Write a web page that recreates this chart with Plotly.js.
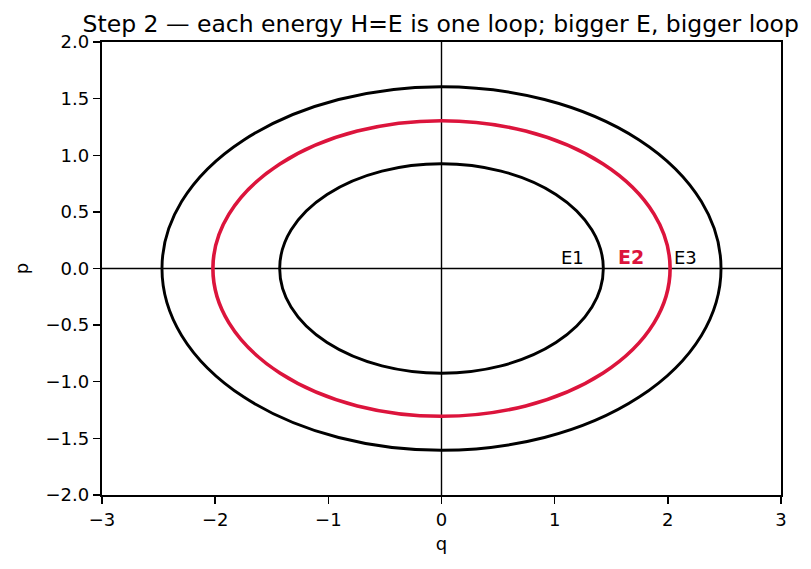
<!DOCTYPE html>
<html>
<head>
<meta charset="utf-8">
<script src="https://cdn.plot.ly/plotly-3.0.1.min.js"></script>
<style>html,body{margin:0;padding:0;background:#fff;}</style>
</head>
<body>
<div id="chart" style="width:811px;height:569px;"></div>
<script>
// Energy levels and the half-widths of each loop
const levelNames = ["E1", "E2", "E3"];
const qHalfWidth = [1.43, 2.02, 2.47];
const pHalfHeight = [0.925, 1.305, 1.605];
const levelColors = ["#000000", "#DC143C", "#000000"];
const levelWidths = [2.9, 3.6, 2.9];
const labelQ = [1.155, 1.675, 2.16];
const labelP = [0.10, 0.10, 0.10];
const xTicks = [-3, -2, -1, 0, 1, 2, 3];
const xTickText = ["\u22123", "\u22122", "\u22121", "0", "1", "2", "3"];
const yTicks = [-2, -1.5, -1, -0.5, 0, 0.5, 1, 1.5, 2];
const yTickText = ["\u22122.0", "\u22121.5", "\u22121.0", "\u22120.5", "0.0", "0.5", "1.0", "1.5", "2.0"];

const font = "DejaVu Sans, sans-serif";

const shapes = [];
shapes.push({type: "line", xref: "x", yref: "y", x0: -3, x1: 3, y0: 0, y1: 0, line: {color: "#000", width: 1.4}, layer: "below"});
shapes.push({type: "line", xref: "x", yref: "y", x0: 0, x1: 0, y0: -2, y1: 2, line: {color: "#000", width: 1.4}, layer: "below"});
for (let i = 0; i < levelNames.length; i++) {
  shapes.push({
    type: "circle", xref: "x", yref: "y",
    x0: -qHalfWidth[i], x1: qHalfWidth[i],
    y0: -pHalfHeight[i], y1: pHalfHeight[i],
    line: {color: levelColors[i], width: levelWidths[i]},
    fillcolor: "rgba(0,0,0,0)"
  });
}

const annotations = levelNames.map((n, i) => ({
  x: labelQ[i], y: labelP[i], xref: "x", yref: "y",
  text: i === 1 ? "<b>" + n + "</b>" : n,
  showarrow: false,
  font: {family: font, size: i === 1 ? 19 : 18, color: levelColors[i]},
  xanchor: "center", yanchor: "middle"
}));

const traces = [{x: [null], y: [null], type: "scatter", mode: "lines", showlegend: false, hoverinfo: "skip"}];

const layout = {
  width: 811, height: 569,
  margin: {l: 102, r: 30, t: 42, b: 74},
  paper_bgcolor: "#fff", plot_bgcolor: "#fff",
  showlegend: false,
  title: {text: "Step 2 \u2014 each energy H=E is one loop; bigger E, bigger loop",
          font: {family: font, size: 23.5, color: "#000"},
          x: 0.5435, xanchor: "center", y: 0.958, yanchor: "middle"},
  xaxis: {range: [-3, 3], tickvals: xTicks, ticktext: xTickText,
          showgrid: false, zeroline: false, showline: true, mirror: true,
          linecolor: "#000", linewidth: 2.2, ticks: "outside", ticklen: 7, tickwidth: 1.4, tickcolor: "#000",
          tickfont: {family: font, size: 18, color: "#000"},
          title: {text: "q", font: {family: font, size: 18, color: "#000"}, standoff: 9}},
  yaxis: {range: [-2, 2], tickvals: yTicks, ticktext: yTickText,
          showgrid: false, zeroline: false, showline: true, mirror: true,
          linecolor: "#000", linewidth: 2.2, ticks: "outside", ticklen: 7, tickwidth: 1.4, tickcolor: "#000",
          tickfont: {family: font, size: 18, color: "#000"},
          title: {text: "p", font: {family: font, size: 18, color: "#000"}, standoff: 12}},
  shapes: shapes,
  annotations: annotations
};

Plotly.newPlot("chart", traces, layout, {displayModeBar: false, staticPlot: true});
</script>
</body>
</html>
